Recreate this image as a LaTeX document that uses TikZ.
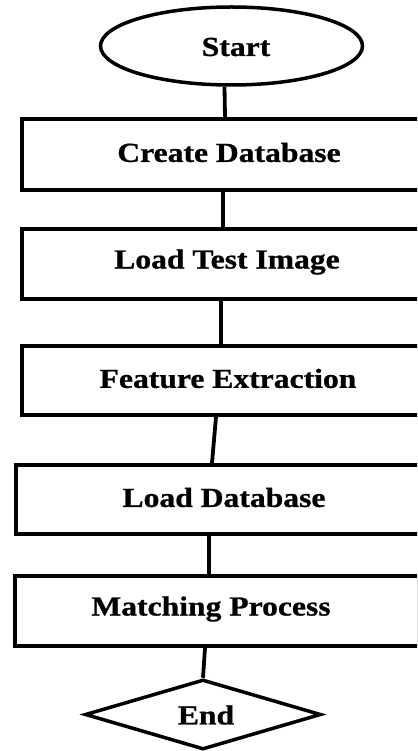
\documentclass[tikz,border=0pt]{standalone}
\usepackage{fontspec}
\setmainfont{Liberation Serif}
\newfontfamily\lblfont[BoldFeatures={FakeBold=0.8}]{Liberation Serif}
\usetikzlibrary{shapes.geometric}
\newcommand\stretchtxt[1]{\scalebox{1.15}[1]{#1}}
\tikzset{
  lbl/.style={font=\lblfont\bfseries\fontsize{27.5}{32}\selectfont, text=black, inner sep=0pt},
  box/.style={draw=black, line width=3.8pt, rectangle, inner sep=0pt, anchor=north west},
  conn/.style={draw=black, line width=3.8pt},
}
\begin{document}
\begin{tikzpicture}[x=1pt,y=-1pt]
\useasboundingbox (0,0) rectangle (417,751);
\fill[white] (0,0) rectangle (417,751);
\clip (0,0) rectangle (417,751);
% start
\node[draw=black, line width=3.5pt, ellipse, minimum width=262pt, minimum height=78pt, inner sep=0pt] (start) at (231.5,46) {};
\node[lbl] (tstart) at (236,47) {\stretchtxt{Start}};
% boxes
\node[box, minimum width=430pt, minimum height=71pt] (b1) at (20,117) {};
\node[lbl] (t1) at (229,152.5) {\stretchtxt{Create Database}};
\node[box, minimum width=430pt, minimum height=70pt] (b2) at (20,227) {};
\node[lbl] (t2) at (227,262) {\stretchtxt{Load Test Image}};
\node[box, minimum width=430pt, minimum height=69pt] (b3) at (20,344) {};
\node[lbl] (t3) at (228,378.5) {\stretchtxt{Feature Extraction}};
\node[box, minimum width=430pt, minimum height=69pt] (b4) at (14,463) {};
\node[lbl] (t4) at (224,497.5) {\stretchtxt{Load Database}};
\node[box, minimum width=404pt, minimum height=70pt] (b5) at (13,574) {};
\node[lbl] (t5) at (211,609) {\stretchtxt{Matching Process}};
% end
\node[draw=black, line width=3.5pt, diamond, minimum width=236pt, minimum height=70pt, inner sep=0pt] (end) at (203,714.5) {};
\node[lbl] (tend) at (206,715) {\stretchtxt{End}};
% connectors
\draw[conn] ([xshift=-7pt]start.south) -- ([xshift=205pt]b1.north west);
\draw[conn] ([xshift=203pt]b1.south west) -- ([xshift=203pt]b2.north west);
\draw[conn] ([xshift=201pt]b2.south west) -- ([xshift=201pt]b3.north west);
\draw[conn] ([xshift=196pt]b3.south west) -- ([xshift=198pt]b4.north west);
\draw[conn] ([xshift=195pt]b4.south west) -- ([xshift=196pt]b5.north west);
\draw[conn] ([xshift=192pt]b5.south west) -- (end.north);
\end{tikzpicture}
\end{document}
